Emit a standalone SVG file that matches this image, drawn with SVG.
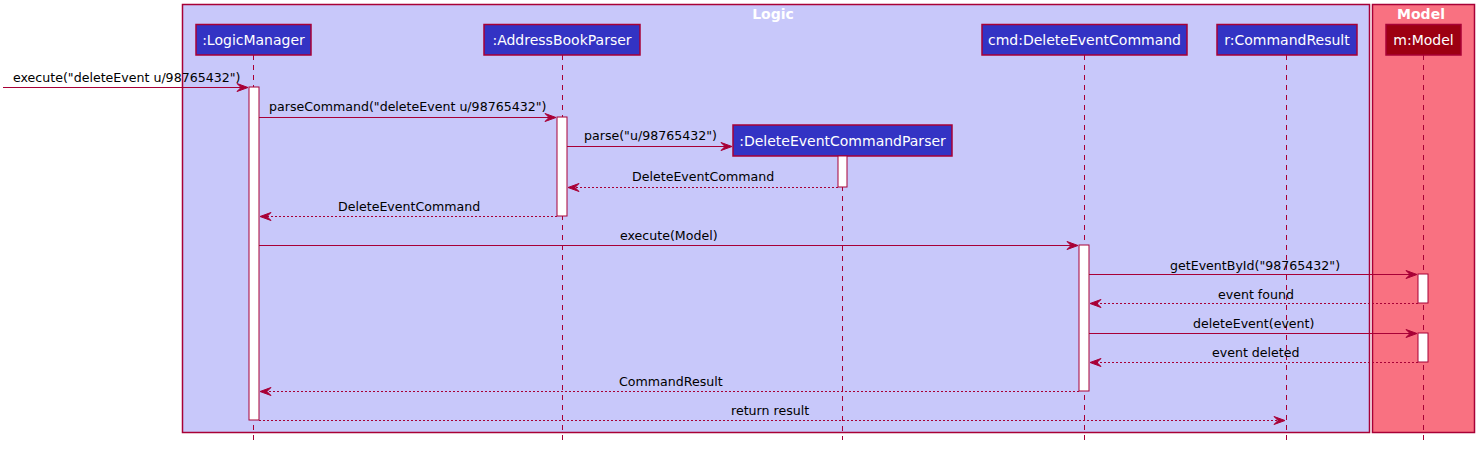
<svg xmlns="http://www.w3.org/2000/svg" width="1484" height="449" viewBox="0 0 1484 449">
<defs>
<style>
.txt{font-family:"DejaVu Sans",sans-serif;font-size:12.6px;fill:#000}
.ptxt{font-family:"DejaVu Sans",sans-serif;font-size:14px;fill:#fff;text-anchor:middle}
.btitle{font-family:"DejaVu Sans",sans-serif;font-size:14px;font-weight:bold;fill:#fff;text-anchor:middle}
.life{stroke:#A80036;stroke-width:1;stroke-dasharray:5,5;fill:none}
.msg{stroke:#A80036;stroke-width:1;fill:none}
.ret{stroke:#A80036;stroke-width:1;stroke-dasharray:2,2;fill:none}
.act{fill:#fff;stroke:#A80036;stroke-width:1}
.part{fill:#3333C4;stroke:#A80036;stroke-width:1.5}
.mpart{fill:#9D0012;stroke:#A80036;stroke-width:1.5}
.head{fill:#A80036;stroke:#A80036}
</style>
</defs>
<rect width="1484" height="449" fill="#fff"/>
<g id="box-logic">
<rect x="182.5" y="4.5" width="1187" height="428" fill="#C8C8FA" stroke="#A80036" stroke-width="1.5"/>
<text class="btitle" x="773" y="19">Logic</text>
</g>
<g id="box-model">
<rect x="1372.5" y="4.5" width="102" height="428" fill="#F97181" stroke="#A80036" stroke-width="1.5"/>
<text class="btitle" x="1421" y="19">Model</text>
</g>
<g id="lifelines">
<line class="life" x1="253.5" y1="55" x2="253.5" y2="440"/>
<line class="life" x1="562.5" y1="55" x2="562.5" y2="440"/>
<line class="life" x1="842.5" y1="156" x2="842.5" y2="440"/>
<line class="life" x1="1084.5" y1="55" x2="1084.5" y2="440"/>
<line class="life" x1="1286.5" y1="55" x2="1286.5" y2="440"/>
<line class="life" x1="1423.5" y1="55" x2="1423.5" y2="440"/>
</g>
<g id="LogicManager">
<rect class="part" x="196" y="24.5" width="115" height="30.5"/>
<text class="ptxt" x="253.5" y="45">:LogicManager</text>
<rect class="act" x="249" y="87" width="10" height="333"/>
</g>
<g id="AddressBookParser">
<rect class="part" x="484" y="24.5" width="156" height="30.5"/>
<text class="ptxt" x="562" y="45">:AddressBookParser</text>
<rect class="act" x="557" y="117" width="10" height="99"/>
</g>
<g id="DeleteEventCommandParser">
<rect class="part" x="733" y="125" width="219" height="31"/>
<text class="ptxt" x="842.5" y="145.5">:DeleteEventCommandParser</text>
<rect class="act" x="838" y="156" width="9" height="31"/>
</g>
<g id="DeleteEventCommand">
<rect class="part" x="982" y="24.5" width="205" height="30.5"/>
<text class="ptxt" x="1084.5" y="45">cmd:DeleteEventCommand</text>
<rect class="act" x="1079" y="245" width="10" height="146"/>
</g>
<g id="CommandResult">
<rect class="part" x="1217" y="24.5" width="140" height="30.5"/>
<text class="ptxt" x="1287" y="45">r:CommandResult</text>
</g>
<g id="Model">
<rect class="mpart" x="1386" y="24.5" width="75" height="30.5"/>
<text class="ptxt" x="1423.5" y="45">m:Model</text>
<rect class="act" x="1418" y="274" width="10" height="29"/>
<rect class="act" x="1418" y="333" width="10" height="29"/>
</g>
<g id="connectors">
<line class="msg" x1="3" y1="87.5" x2="247" y2="87.5"/>
<polygon class="head" points="237,83.5 248,87.5 237,91.5 241,87.5"/>
<text class="txt" x="13" y="82">execute("deleteEvent u/98765432")</text>

<line class="msg" x1="259" y1="117.5" x2="555" y2="117.5"/>
<polygon class="head" points="545,113.5 556,117.5 545,121.5 549,117.5"/>
<text class="txt" x="269" y="111">parseCommand("deleteEvent u/98765432")</text>

<line class="msg" x1="567" y1="146.5" x2="731" y2="146.5"/>
<polygon class="head" points="721,142.5 732,146.5 721,150.5 725,146.5"/>
<text class="txt" x="584" y="140">parse("u/98765432")</text>

<line class="ret" x1="838" y1="187.5" x2="569" y2="187.5"/>
<polygon class="head" points="579,183.5 568,187.5 579,191.5 575,187.5"/>
<text class="txt" x="632" y="181">DeleteEventCommand</text>

<line class="ret" x1="557" y1="216.5" x2="261" y2="216.5"/>
<polygon class="head" points="271,212.5 260,216.5 271,220.5 267,216.5"/>
<text class="txt" x="338" y="211">DeleteEventCommand</text>

<line class="msg" x1="259" y1="245.5" x2="1077" y2="245.5"/>
<polygon class="head" points="1067,241.5 1078,245.5 1067,249.5 1071,245.5"/>
<text class="txt" x="620" y="240">execute(Model)</text>

<line class="msg" x1="1089" y1="274.5" x2="1416" y2="274.5"/>
<polygon class="head" points="1406,270.5 1417,274.5 1406,278.5 1410,274.5"/>
<text class="txt" x="1170" y="270">getEventById("98765432")</text>

<line class="ret" x1="1418" y1="303.5" x2="1091" y2="303.5"/>
<polygon class="head" points="1101,299.5 1090,303.5 1101,307.5 1097,303.5"/>
<text class="txt" x="1218" y="299">event found</text>

<line class="msg" x1="1089" y1="333.5" x2="1416" y2="333.5"/>
<polygon class="head" points="1406,329.5 1417,333.5 1406,337.5 1410,333.5"/>
<text class="txt" x="1193" y="328">deleteEvent(event)</text>

<line class="ret" x1="1418" y1="362.5" x2="1091" y2="362.5"/>
<polygon class="head" points="1101,358.5 1090,362.5 1101,366.5 1097,362.5"/>
<text class="txt" x="1212" y="357">event deleted</text>

<line class="ret" x1="1079" y1="391.5" x2="261" y2="391.5"/>
<polygon class="head" points="271,387.5 260,391.5 271,395.5 267,391.5"/>
<text class="txt" x="619" y="386">CommandResult</text>

<line class="ret" x1="259" y1="420.5" x2="1284" y2="420.5"/>
<polygon class="head" points="1274,416.5 1285,420.5 1274,424.5 1278,420.5"/>
<text class="txt" x="731" y="415">return result</text>
</g>
</svg>
